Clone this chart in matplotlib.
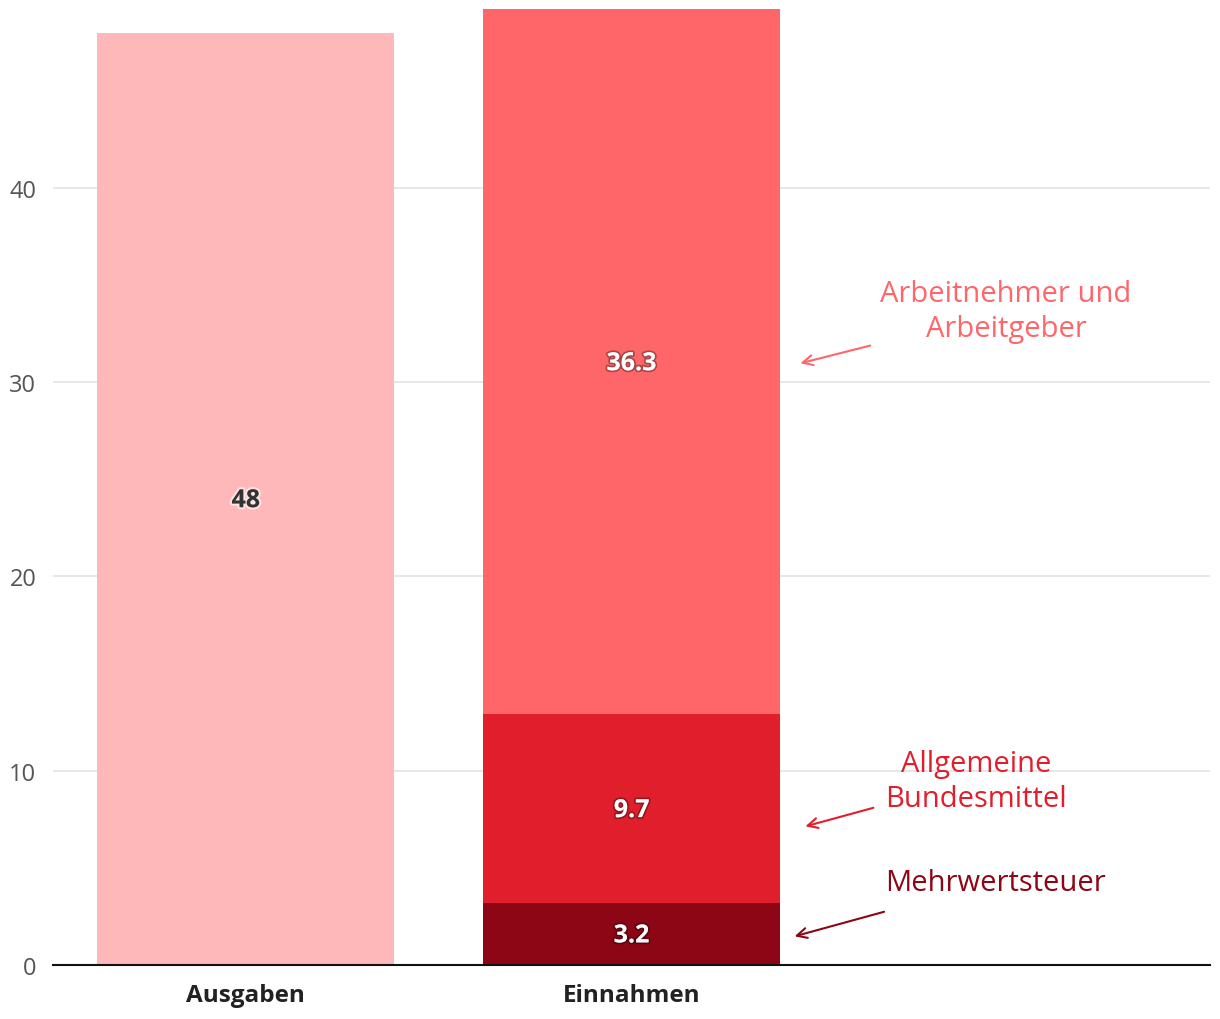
import matplotlib.pyplot as plt
import matplotlib.patheffects as pe

# Daten
categories = ["Ausgaben", "Einnahmen", ""]
ausgaben = [48, 0, 0]
mwst = [0, 3.2, 0]
bundesmittel = [0, 9.7, 0]
beitraege = [0, 36.3, 0]

c_ausgaben = "#ffb8b9"
c_mwst = "#8c0615"
c_bund = "#e11f2c"
c_beitr = "#ff6669"

plt.rcParams["font.family"] = ["Open Sans", "DejaVu Sans"]

fig = plt.figure(figsize=(12.2, 10.2), dpi=100)
ax = fig.add_axes([0.0434, 0.0529, 0.9484, 0.9371])

x = list(range(len(categories)))
w = 0.77
ax.bar(x, ausgaben, w, color=c_ausgaben, zorder=2)
ax.bar(x, mwst, w, color=c_mwst, zorder=2)
ax.bar(x, bundesmittel, w, bottom=mwst, color=c_bund, zorder=2)
bottom2 = [a + b for a, b in zip(mwst, bundesmittel)]
ax.bar(x, beitraege, w, bottom=bottom2, color=c_beitr, zorder=2)

ax.set_xlim(-0.5, 2.5)
ax.set_ylim(0, 49.2)
ax.set_yticks([0, 10, 20, 30, 40])
ax.set_xticks(x)
ax.set_xticklabels(categories, fontsize=17.5, fontweight="bold", color="#222222")
ax.tick_params(axis="x", length=0, pad=13)
ax.tick_params(axis="y", length=0, pad=12, labelsize=17, labelcolor="#555555")
ax.grid(axis="y", color="#e3e3e3", lw=1.2, zorder=0)
for s in ["top", "right", "left"]:
    ax.spines[s].set_visible(False)
ax.spines["bottom"].set_color("#111111")
ax.spines["bottom"].set_linewidth(1.5)
ax.spines["bottom"].set_zorder(3)

# Werte in den Balken
dark_halo = [pe.withStroke(linewidth=2.5, foreground="#00000055")]
light_halo = [pe.withStroke(linewidth=3, foreground="#ffffff99")]
lab_kw = dict(ha="center", va="center", fontsize=18, fontweight="bold", zorder=4)
ax.text(0, ausgaben[0] / 2 - 0.1, f"{ausgaben[0]}", color="#333333",
        path_effects=light_halo, **lab_kw)
ax.text(1, mwst[1] / 2 - 0.1, f"{mwst[1]}", color="white",
        path_effects=dark_halo, **lab_kw)
ax.text(1, mwst[1] + bundesmittel[1] / 2 - 0.1, f"{bundesmittel[1]}", color="white",
        path_effects=dark_halo, **lab_kw)
ax.text(1, bottom2[1] + beitraege[1] / 2 - 0.1, f"{beitraege[1]}", color="white",
        path_effects=dark_halo, **lab_kw)

# Beschriftungen mit Pfeilen
def note(label, color, text_xy, start, end):
    ax.text(text_xy[0], text_xy[1], label, ha="center", va="center",
            fontsize=21, color=color, linespacing=1.3)
    ax.annotate("", xy=end, xytext=start,
                arrowprops=dict(arrowstyle="->", color=color, lw=1.5,
                                mutation_scale=18))

note("Arbeitnehmer und\nArbeitgeber", c_beitr, (1.971, 33.67), (1.626, 31.92), (1.431, 30.94))
note("Allgemeine\nBundesmittel", c_bund, (1.894, 9.47), (1.634, 8.13), (1.444, 7.10))
note("Mehrwertsteuer", c_mwst, (1.943, 4.27), (1.662, 2.78), (1.416, 1.44))

fig.savefig("out.png", dpi=100, facecolor="white")
